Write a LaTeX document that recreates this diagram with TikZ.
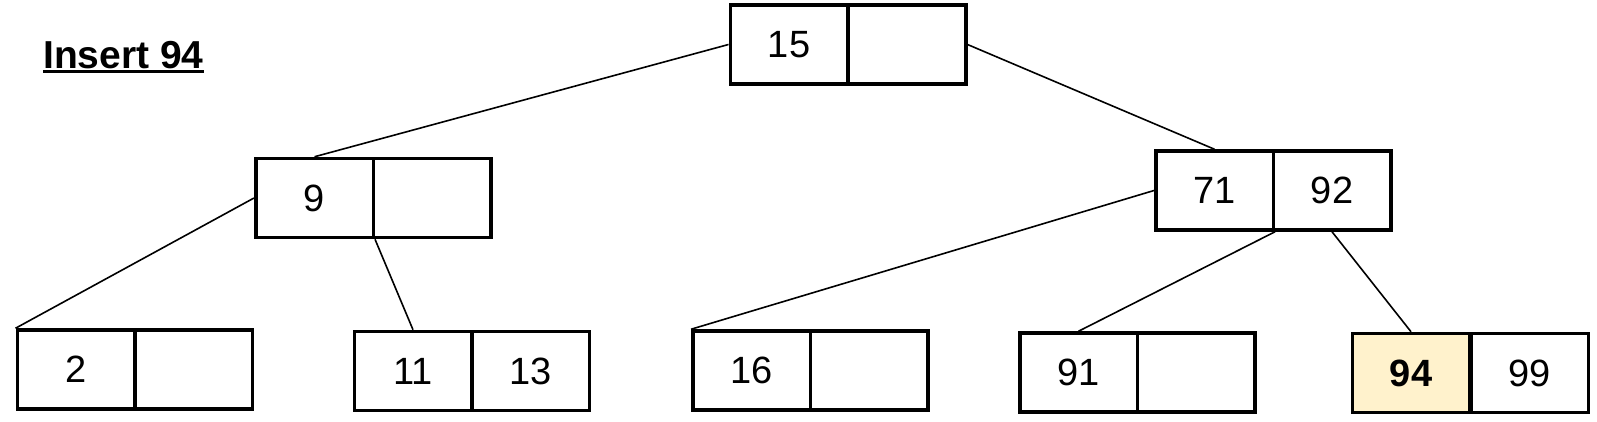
\documentclass[tikz,border=0pt]{standalone}
\usepackage{fontspec}
\setmainfont{Liberation Sans}
\definecolor{hilite}{HTML}{FFF2CC}
\begin{document}
\begin{tikzpicture}[x=1pt,y=-1pt,
  cell/.style={draw=black, line width=3.5pt, minimum width=117.5pt, minimum height=79pt,
    inner sep=0pt, font=\fontsize{38}{40}\selectfont},
  link/.style={draw=black, line width=1.6pt}]
\useasboundingbox[fill=white] (0,0) rectangle (1597,421);
% title
\node[anchor=base west, inner sep=0pt, font=\fontsize{39}{42}\selectfont\bfseries] (title) at (43,68) {Insert 94};
\draw[line width=3pt] ([yshift=-3.5pt]title.base west) -- ([yshift=-3.5pt]title.base east);
% root
\node[cell] (r1) at (789,44.5) {15};
\node[cell] (r2) at (907,44.5) {};
% level 2
\node[cell] (a1) at (314.5,198) {9};
\node[cell] (a2) at (432,198) {};
\node[cell] (b1) at (1214.5,190.5) {71};
\node[cell] (b2) at (1332,190.5) {92};
% leaves
\node[cell] (c1) at (76,369.5) {2};
\node[cell] (c2) at (193.5,369.5) {};
\node[cell] (d1) at (413,371) {11};
\node[cell] (d2) at (530.5,371) {13};
\node[cell] (e1) at (751.5,370.5) {16};
\node[cell] (e2) at (869,370.5) {};
\node[cell] (f1) at (1078.5,372.5) {91};
\node[cell] (f2) at (1196,372.5) {};
\node[cell, fill=hilite, font=\fontsize{38}{40}\selectfont\bfseries] (g1) at (1411,373) {94};
\node[cell] (g2) at (1529.5,373) {99};
% connectors
\draw[link] (r1.west) -- (a1.north);
\draw[link] (r2.east) -- (b1.north);
\draw[link] (a1.west) -- (c1.north west);
\draw[link] (a1.south east) -- (d1.north);
\draw[link] (b1.west) -- (e1.north west);
\draw[link] (b1.south east) -- (f1.north);
\draw[link] (b2.south) -- (g1.north);
\end{tikzpicture}
\end{document}
